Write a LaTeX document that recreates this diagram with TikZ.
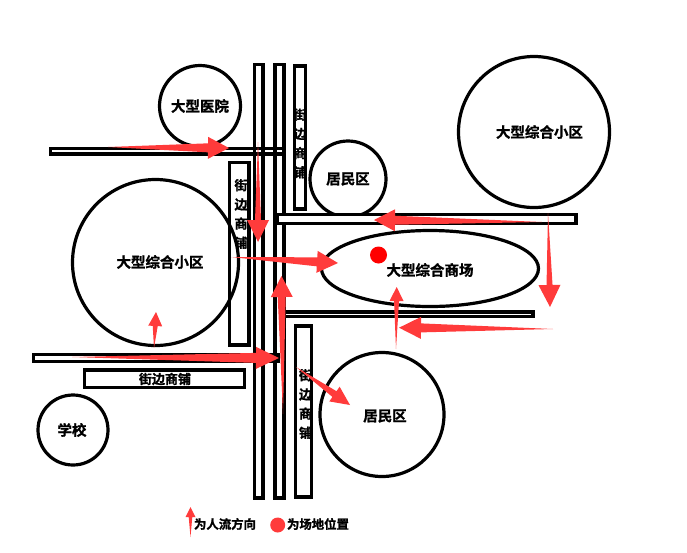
\documentclass[tikz,border=0pt]{standalone}
\usepackage{fontspec}
\setmainfont{Noto Sans CJK SC}[BoldFont={* Bold},BoldFeatures={FakeBold=1.2}]
\usetikzlibrary{calc,shapes.geometric}
\definecolor{flowred}{HTML}{FF3B3B}
\tikzset{
  every picture/.style={line join=miter},
  area/.style={circle,draw,line width=3.2pt,inner sep=0pt},
  mall/.style={ellipse,draw,line width=3.2pt,inner sep=0pt},
  road/.style={draw,fill=white,line width=3.2pt,inner sep=0pt},
  shoptext/.style={font=\fontsize{13}{19.2}\selectfont\bfseries,align=center,inner sep=0pt},
  areatext/.style={font=\fontsize{14.5}{16}\selectfont\bfseries,inner sep=0pt},
  legendtext/.style={font=\fontsize{12.4}{14}\selectfont\bfseries,inner sep=0pt}
}
\newcommand{\flowarrow}[5]{
  \fill[flowred] (#1)
    -- ($($(#2)!#3pt!(#1)$)!#5pt!90:(#2)$)
    -- ($($(#2)!#3pt!(#1)$)!#4pt!90:(#2)$)
    -- (#2)
    -- ($($(#2)!#3pt!(#1)$)!#4pt!-90:(#2)$)
    -- ($($(#2)!#3pt!(#1)$)!#5pt!-90:(#2)$)
    -- cycle;
}
\begin{document}
\begin{tikzpicture}[x=1pt,y=-1pt]
  \useasboundingbox (0,0) rectangle (687,552);
  \node[area,minimum size=81pt] (hospital) at (200,106) {};
  \node[area,minimum size=166pt] (leftblock) at (155.5,262.5) {};
  \node[area,minimum size=70pt] (school) at (73,430) {};
  \node[area,minimum size=76pt] (uphomes) at (348,179) {};
  \node[area,minimum size=124pt] (lowhomes) at (382,414.5) {};
  \node[area,minimum size=151pt] (rightblock) at (534,132) {};
  \node[mall,minimum width=217pt,minimum height=76pt] (mall) at (430,268.5) {};
  \node[circle,fill=red,minimum size=17pt,inner sep=0pt] (site) at (378.5,255) {};

  \draw[road,fill=none] (229.5,162.5) rectangle (249,345);
  \draw[road,fill=none] (294.5,66) rectangle (305.5,209);
  \draw[road,fill=none] (295.5,326) rectangle (311.5,497);
  \draw[road,fill=none] (84.5,370) rectangle (244.5,387.5);
  \draw[road,fill=none] (254.5,64.5) rectangle (263,498);
  \draw[road,fill=none] (275,64.5) rectangle (284,498);
  \draw[road,fill=none] (50.5,148.5) rectangle (284,154);
  \draw[road,fill=none] (33.5,354.5) rectangle (278,361.5);
  \draw[road] (277,214.5) rectangle (576,223.5);
  \draw[road] (284,312) rectangle (533,316.5);

  \node[areatext] (hospitaltxt) at (200,106) {大型医院};
  \node[areatext] (lefttxt) at (160,262) {大型综合小区};
  \node[areatext] (righttxt) at (539.5,132) {大型综合小区};
  \node[areatext] (malltxt) at (430,270) {大型综合商场};
  \node[areatext] (uptxt) at (348,179) {居民区};
  \node[areatext] (lowtxt) at (385,416) {居民区};
  \node[areatext] (schooltxt) at (72,430) {学校};
  \node[shoptext] (shopa) at (300,143.5) {街\\边\\商\\铺};
  \node[shoptext] (shopb) at (241,214) {街\\边\\商\\铺};
  \node[shoptext] (shopc) at (305.5,404) {街\\边\\商\\铺};
  \node[shoptext] (shopd) at (165,379) {街边商铺};

  \coordinate (a1) at (108,147);   \coordinate (b1) at (229,148);
  \coordinate (a2) at (258,142);   \coordinate (b2) at (258,242);
  \coordinate (a3) at (231,257);   \coordinate (b3) at (338,263);
  \coordinate (a4) at (283,414);   \coordinate (b4) at (281.5,276);
  \coordinate (a5) at (154,348);   \coordinate (b5) at (156,312);
  \coordinate (a6) at (72,357);    \coordinate (b6) at (279,358);
  \coordinate (a7) at (296,367);   \coordinate (b7) at (350,405);
  \coordinate (a8) at (542,222);   \coordinate (b8) at (374,220);
  \coordinate (a9) at (548,213);   \coordinate (b9) at (550,307);
  \coordinate (a10) at (396,349);  \coordinate (b10) at (396.7,287);
  \coordinate (a11) at (553,329);  \coordinate (b11) at (399,327.7);
  \coordinate (a12) at (190.5,537); \coordinate (b12) at (190.5,507);

  \flowarrow{a1}{b1}{21}{11}{4.5}
  \flowarrow{a2}{b2}{22}{11}{3}
  \flowarrow{a3}{b3}{21}{11}{4.5}
  \flowarrow{a4}{b4}{21}{11}{4}
  \flowarrow{a5}{b5}{14}{7}{2.5}
  \flowarrow{a6}{b6}{23}{11}{5}
  \flowarrow{a7}{b7}{19}{9}{3.5}
  \flowarrow{a8}{b8}{21}{11}{4.5}
  \flowarrow{a9}{b9}{22}{11}{3}
  \flowarrow{a10}{b10}{14}{7}{2.5}
  \flowarrow{a11}{b11}{22}{11}{4.5}
  \flowarrow{a12}{b12}{10}{5}{1.8}

  \node[legendtext] (flowtxt) at (225,524) {为人流方向};
  \node[circle,fill=flowred,minimum size=15pt,inner sep=0pt] (dot) at (277.7,525) {};
  \node[legendtext] (sitetxt) at (318,524) {为场地位置};
\end{tikzpicture}
\end{document}
